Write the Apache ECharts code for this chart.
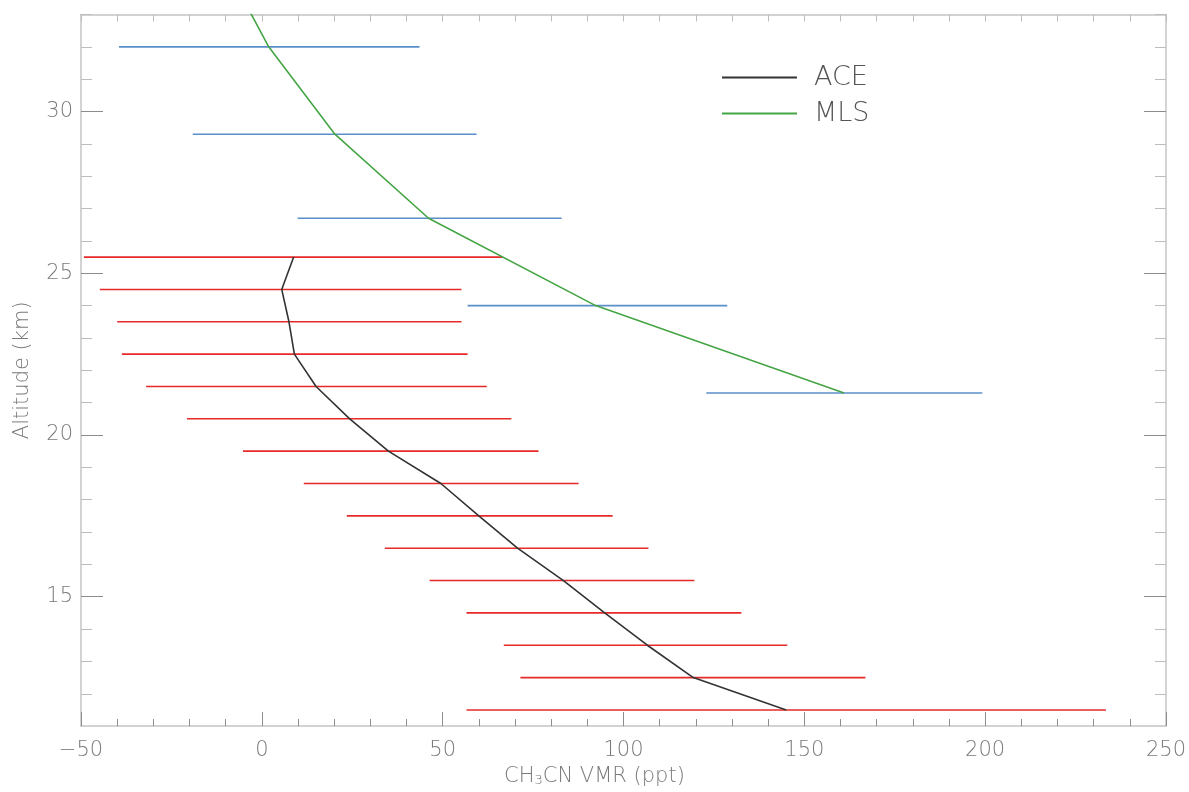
<!DOCTYPE html>
<html>
<head>
<meta charset="utf-8">
<script src="https://cdn.jsdelivr.net/npm/echarts@6/dist/echarts.min.js"></script>
<style>html,body{margin:0;padding:0;background:#fff}#c{width:1189px;height:792px}</style>
</head>
<body>
<div id="c"></div>
<script>
// ACE profile (altitude km, VMR ppt) and error bar ends
var aceAlt  = [25.5, 24.5, 23.5, 22.5, 21.5, 20.5, 19.5, 18.5, 17.5, 16.5, 15.5, 14.5, 13.5, 12.5, 11.5];
var aceVmr  = [8.8, 5.5, 7.5, 9.0, 15.0, 24.3, 35.0, 49.5, 60.0, 70.7, 83.4, 94.8, 106.6, 119.3, 145.0];
var aceLow  = [-49.2, -44.8, -40.0, -38.7, -32.0, -20.7, -5.2, 11.6, 23.5, 34.0, 46.4, 56.6, 66.9, 71.5, 56.6];
var aceHigh = [66.6, 55.2, 55.2, 56.9, 62.2, 69.0, 76.5, 87.6, 97.0, 106.9, 119.6, 132.6, 145.3, 166.9, 233.4];

// MLS profile
var mlsAlt  = [34.7, 32.0, 29.3, 26.7, 24.0, 21.3];
var mlsVmr  = [-11.0, 1.9, 20.2, 46.1, 92.3, 161.0];
var mlsLow  = [null, -39.5, -19.1, 9.9, 56.9, 122.9];
var mlsHigh = [null, 43.6, 59.4, 82.9, 128.7, 199.2];

// axis ticks
var xMajor = [-50, 0, 50, 100, 150, 200, 250];
var yMajor = [15, 20, 25, 30];
var yMinor = [12, 13, 14, 16, 17, 18, 19, 21, 22, 23, 24, 26, 27, 28, 29, 31, 32, 33];

var FONT = 'DejaVu Sans';
var FW = 200;
var LBL = '#7a7a7a';
var FRAME = '#c4c4c4';
var MAJ = '#8c8c8c';
var MIN = '#bdbdbd';

function pairs(a, b) { return a.map(function (v, i) { return [b[i], v]; }); }
function bars(alt, lo, hi) {
  var out = [];
  for (var i = 0; i < alt.length; i++) if (lo[i] != null) out.push([lo[i], hi[i], alt[i]]);
  return out;
}
function errRender(color) {
  return function (params, api) {
    var p1 = api.coord([api.value(0), api.value(2)]);
    var p2 = api.coord([api.value(1), api.value(2)]);
    return { type: 'line', shape: { x1: p1[0], y1: p1[1], x2: p2[0], y2: p2[1] },
      style: { stroke: color, lineWidth: 1.6 } };
  };
}

var xBase = { type: 'value', min: -50, max: 250, interval: 50, gridIndex: 0 };
var yBase = { type: 'value', min: 11, max: 33, gridIndex: 0 };

var chart = echarts.init(document.getElementById('c'), null, { renderer: 'canvas' });
chart.setOption({
  animation: false,
  backgroundColor: '#fff',
  grid: { left: 81, right: 23, top: 14.5, bottom: 64, containLabel: false },
  legend: {
    show: true, left: 717, top: 59, orient: 'vertical', itemWidth: 75, itemHeight: 2, itemGap: 9,
    icon: 'rect',
    data: ['ACE', 'MLS'],
    textStyle: { fontFamily: FONT, fontWeight: FW, fontSize: 27, color: '#555', padding: [0, 0, 0, 12] }
  },
  xAxis: [
    Object.assign({}, xBase, {
      position: 'bottom',
      name: '{a|CH}{s|3}{a|CN VMR (ppt)}', nameLocation: 'middle', nameGap: 35,
      nameTextStyle: { padding: [0, 58, 0, 0], rich: {
        a: { fontFamily: FONT, fontWeight: FW, fontSize: 21, color: LBL },
        s: { fontFamily: FONT, fontWeight: FW, fontSize: 13, color: LBL, verticalAlign: 'bottom', padding: [8, 0, 0, 0] } } },
      axisLine: { show: true, onZero: false, lineStyle: { color: FRAME, width: 1.5 } },
      axisTick: { show: true, inside: true, length: 14, lineStyle: { color: MAJ } },
      minorTick: { show: true, splitNumber: 5, length: 7, lineStyle: { color: MAJ } },
      axisLabel: { fontFamily: FONT, fontWeight: FW, fontSize: 21, color: LBL, margin: 14,
        formatter: function (v) { return v < 0 ? '\u2212' + Math.abs(v) : String(v); } },
      splitLine: { show: false }
    }),
    Object.assign({}, xBase, {
      position: 'top',
      axisLine: { show: true, onZero: false, lineStyle: { color: FRAME, width: 1.5 } },
      axisTick: { show: true, inside: true, length: 7, lineStyle: { color: MIN } },
      minorTick: { show: true, splitNumber: 5, length: 7, lineStyle: { color: MIN } },
      axisLabel: { show: false },
      splitLine: { show: false }
    })
  ],
  yAxis: [
    Object.assign({}, yBase, {
      position: 'left',
      name: 'Altitude (km)', nameLocation: 'middle', nameGap: 48, nameRotate: 90,
      nameTextStyle: { fontFamily: FONT, fontWeight: FW, fontSize: 21, color: LBL },
      axisLine: { show: true, onZero: false, lineStyle: { color: FRAME, width: 1.5 } },
      axisTick: { show: true, inside: true, length: 22, customValues: yMajor, lineStyle: { color: MAJ } },
      axisLabel: { fontFamily: FONT, fontWeight: FW, fontSize: 21, color: LBL, margin: 8, customValues: yMajor },
      splitLine: { show: false }
    }),
    Object.assign({}, yBase, {
      position: 'left',
      axisLine: { show: false, onZero: false },
      axisTick: { show: true, inside: true, length: 11, customValues: yMinor, lineStyle: { color: MIN } },
      axisLabel: { show: false },
      splitLine: { show: false }
    }),
    Object.assign({}, yBase, {
      position: 'right',
      axisLine: { show: true, onZero: false, lineStyle: { color: FRAME, width: 1.5 } },
      axisTick: { show: true, inside: true, length: 22, customValues: yMajor, lineStyle: { color: MAJ } },
      axisLabel: { show: false },
      splitLine: { show: false }
    }),
    Object.assign({}, yBase, {
      position: 'right',
      axisLine: { show: false, onZero: false },
      axisTick: { show: true, inside: true, length: 11, customValues: yMinor, lineStyle: { color: MIN } },
      axisLabel: { show: false },
      splitLine: { show: false }
    })
  ],
  series: [
    { type: 'custom', name: 'ACE err', xAxisIndex: 0, yAxisIndex: 0, clip: true,
      renderItem: errRender('#e62a2a'), data: bars(aceAlt, aceLow, aceHigh), z: 1 },
    { type: 'custom', name: 'MLS err', xAxisIndex: 0, yAxisIndex: 0, clip: true,
      renderItem: errRender('#5b8fca'), data: bars(mlsAlt, mlsLow, mlsHigh), z: 1 },
    { type: 'line', name: 'ACE', xAxisIndex: 0, yAxisIndex: 0, data: pairs(aceAlt, aceVmr),
      symbol: 'none', clip: true, itemStyle: { color: '#333' }, lineStyle: { color: '#333', width: 1.6 }, z: 3 },
    { type: 'line', name: 'MLS', xAxisIndex: 0, yAxisIndex: 0, data: pairs(mlsAlt, mlsVmr),
      symbol: 'none', clip: true, itemStyle: { color: '#45a545' }, lineStyle: { color: '#45a545', width: 1.6 }, z: 3 }
  ]
});
</script>
</body>
</html>
